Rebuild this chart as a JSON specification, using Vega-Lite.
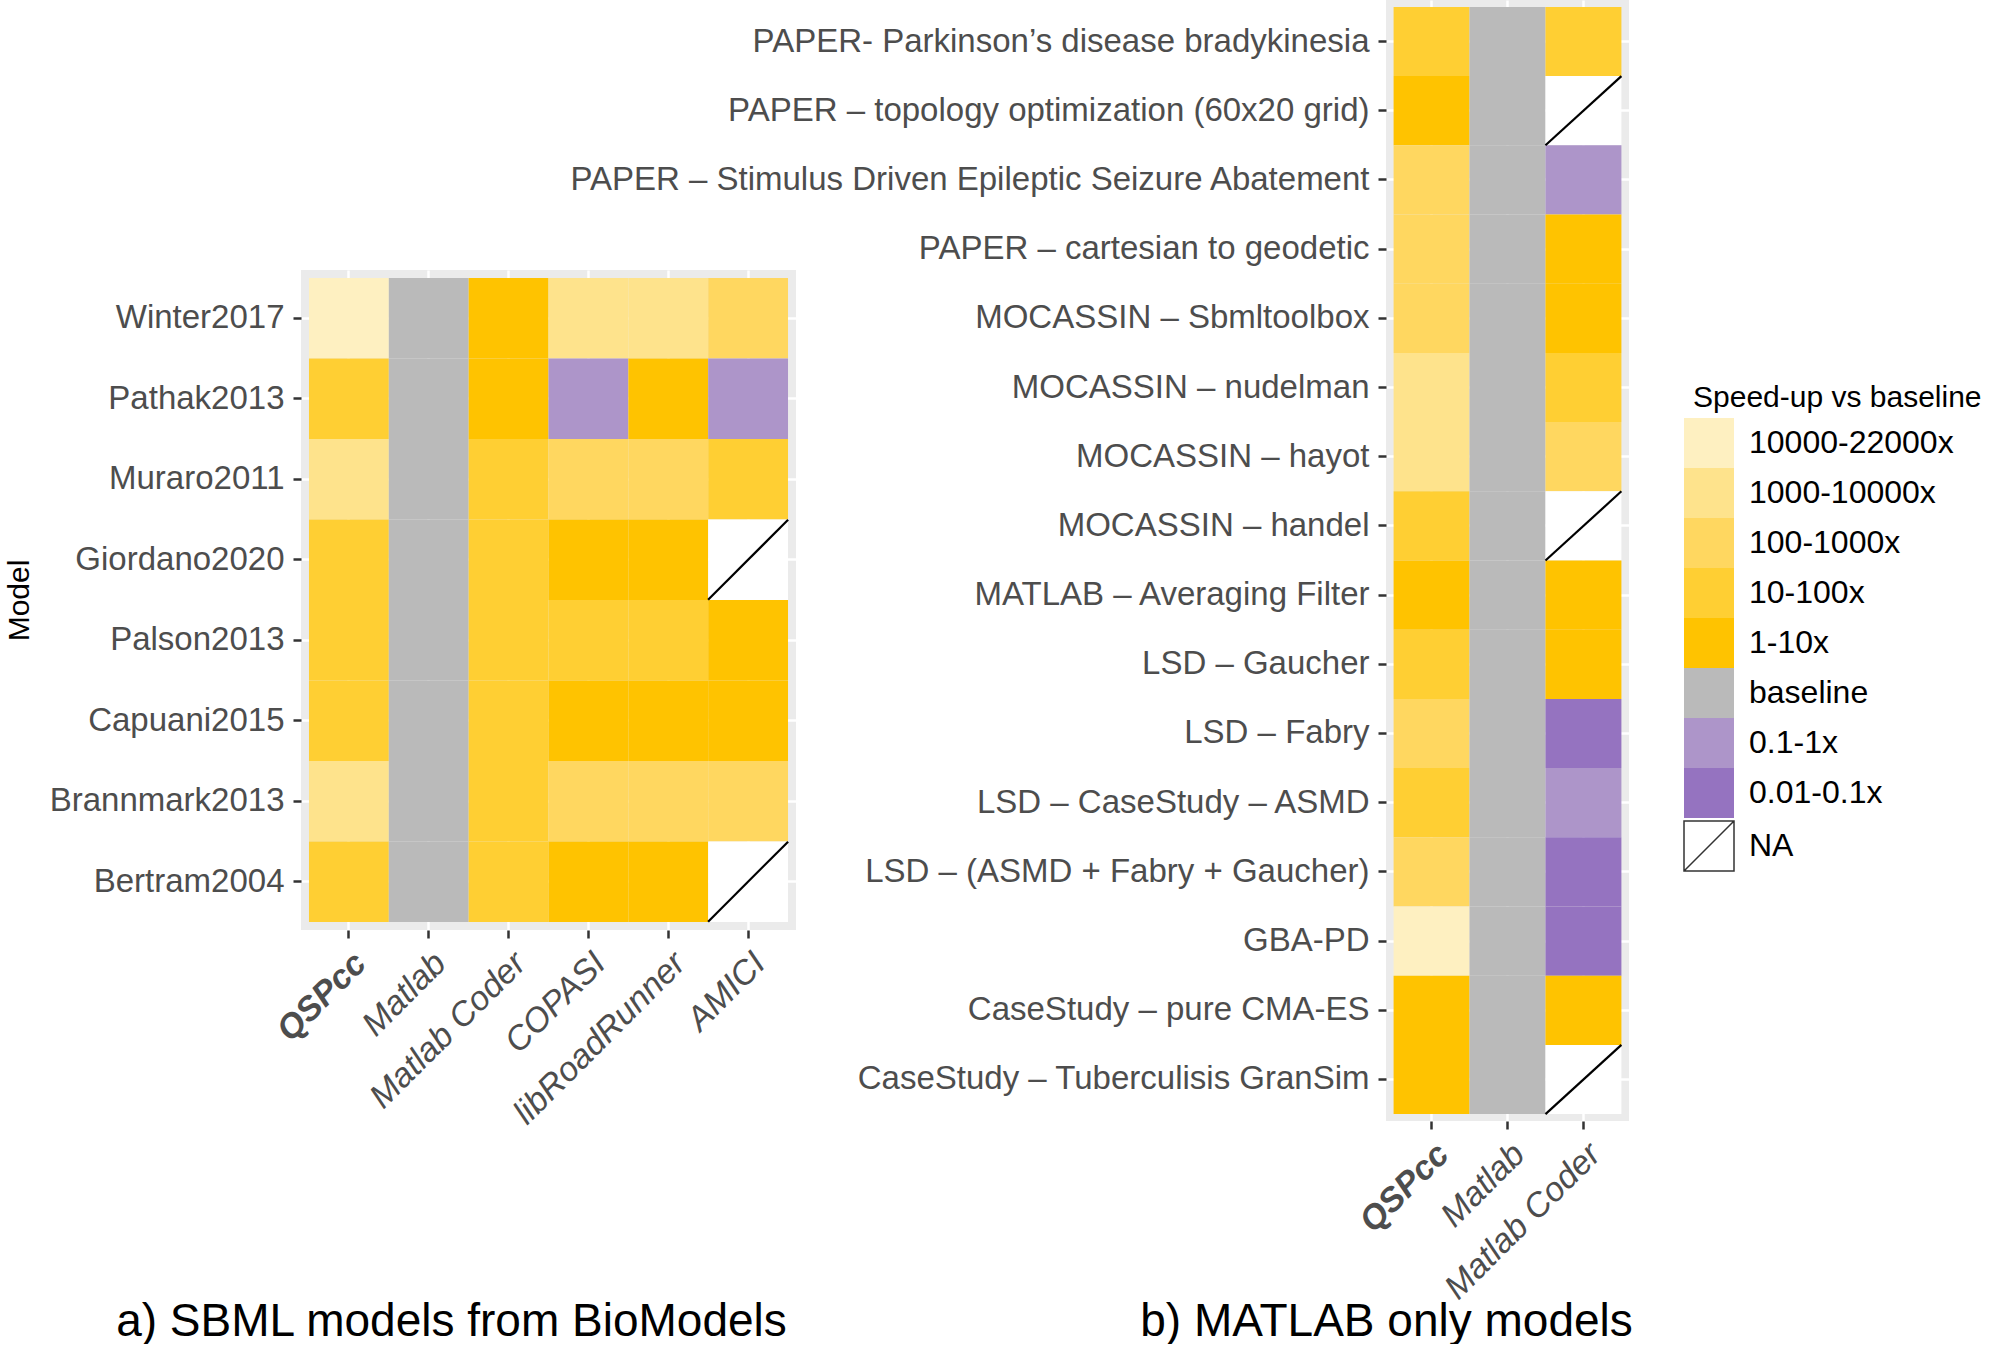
{
  "$schema": "https://vega.github.io/schema/vega-lite/v6.json",
  "padding": {"left": 4, "top": 0, "right": 0, "bottom": 0},
  "background": "#FFFFFF",
  "config": {
    "font": "Liberation Sans",
    "view": {"stroke": null},
    "axis": {
      "domain": false,
      "zindex": 0,
      "tickColor": "#333333",
      "tickWidth": 2.5,
      "tickSize": 8,
      "labelColor": "#4D4D4D",
      "labelFontSize": 33,
      "labelLimit": 1200,
      "gridColor": "#FFFFFF",
      "gridWidth": 2.5,
      "titleFontWeight": "normal",
      "titleColor": "#000000"
    }
  },
  "datasets": {
    "sbml": [
      {"model": "Winter2017", "tool": "QSPcc", "speed": "10000-22000x"},
      {"model": "Winter2017", "tool": "Matlab", "speed": "baseline"},
      {"model": "Winter2017", "tool": "Matlab Coder", "speed": "1-10x"},
      {"model": "Winter2017", "tool": "COPASI", "speed": "1000-10000x"},
      {"model": "Winter2017", "tool": "libRoadRunner", "speed": "1000-10000x"},
      {"model": "Winter2017", "tool": "AMICI", "speed": "100-1000x"},
      {"model": "Pathak2013", "tool": "QSPcc", "speed": "10-100x"},
      {"model": "Pathak2013", "tool": "Matlab", "speed": "baseline"},
      {"model": "Pathak2013", "tool": "Matlab Coder", "speed": "1-10x"},
      {"model": "Pathak2013", "tool": "COPASI", "speed": "0.1-1x"},
      {"model": "Pathak2013", "tool": "libRoadRunner", "speed": "1-10x"},
      {"model": "Pathak2013", "tool": "AMICI", "speed": "0.1-1x"},
      {"model": "Muraro2011", "tool": "QSPcc", "speed": "1000-10000x"},
      {"model": "Muraro2011", "tool": "Matlab", "speed": "baseline"},
      {"model": "Muraro2011", "tool": "Matlab Coder", "speed": "10-100x"},
      {"model": "Muraro2011", "tool": "COPASI", "speed": "100-1000x"},
      {"model": "Muraro2011", "tool": "libRoadRunner", "speed": "100-1000x"},
      {"model": "Muraro2011", "tool": "AMICI", "speed": "10-100x"},
      {"model": "Giordano2020", "tool": "QSPcc", "speed": "10-100x"},
      {"model": "Giordano2020", "tool": "Matlab", "speed": "baseline"},
      {"model": "Giordano2020", "tool": "Matlab Coder", "speed": "10-100x"},
      {"model": "Giordano2020", "tool": "COPASI", "speed": "1-10x"},
      {"model": "Giordano2020", "tool": "libRoadRunner", "speed": "1-10x"},
      {"model": "Giordano2020", "tool": "AMICI", "speed": "NA"},
      {"model": "Palson2013", "tool": "QSPcc", "speed": "10-100x"},
      {"model": "Palson2013", "tool": "Matlab", "speed": "baseline"},
      {"model": "Palson2013", "tool": "Matlab Coder", "speed": "10-100x"},
      {"model": "Palson2013", "tool": "COPASI", "speed": "10-100x"},
      {"model": "Palson2013", "tool": "libRoadRunner", "speed": "10-100x"},
      {"model": "Palson2013", "tool": "AMICI", "speed": "1-10x"},
      {"model": "Capuani2015", "tool": "QSPcc", "speed": "10-100x"},
      {"model": "Capuani2015", "tool": "Matlab", "speed": "baseline"},
      {"model": "Capuani2015", "tool": "Matlab Coder", "speed": "10-100x"},
      {"model": "Capuani2015", "tool": "COPASI", "speed": "1-10x"},
      {"model": "Capuani2015", "tool": "libRoadRunner", "speed": "1-10x"},
      {"model": "Capuani2015", "tool": "AMICI", "speed": "1-10x"},
      {"model": "Brannmark2013", "tool": "QSPcc", "speed": "1000-10000x"},
      {"model": "Brannmark2013", "tool": "Matlab", "speed": "baseline"},
      {"model": "Brannmark2013", "tool": "Matlab Coder", "speed": "10-100x"},
      {"model": "Brannmark2013", "tool": "COPASI", "speed": "100-1000x"},
      {"model": "Brannmark2013", "tool": "libRoadRunner", "speed": "100-1000x"},
      {"model": "Brannmark2013", "tool": "AMICI", "speed": "100-1000x"},
      {"model": "Bertram2004", "tool": "QSPcc", "speed": "10-100x"},
      {"model": "Bertram2004", "tool": "Matlab", "speed": "baseline"},
      {"model": "Bertram2004", "tool": "Matlab Coder", "speed": "10-100x"},
      {"model": "Bertram2004", "tool": "COPASI", "speed": "1-10x"},
      {"model": "Bertram2004", "tool": "libRoadRunner", "speed": "1-10x"},
      {"model": "Bertram2004", "tool": "AMICI", "speed": "NA"}
    ],
    "matlab": [
      {"model": "PAPER- Parkinson’s disease bradykinesia", "tool": "QSPcc", "speed": "10-100x"},
      {"model": "PAPER- Parkinson’s disease bradykinesia", "tool": "Matlab", "speed": "baseline"},
      {"model": "PAPER- Parkinson’s disease bradykinesia", "tool": "Matlab Coder", "speed": "10-100x"},
      {"model": "PAPER – topology optimization (60x20 grid)", "tool": "QSPcc", "speed": "1-10x"},
      {"model": "PAPER – topology optimization (60x20 grid)", "tool": "Matlab", "speed": "baseline"},
      {"model": "PAPER – topology optimization (60x20 grid)", "tool": "Matlab Coder", "speed": "NA"},
      {"model": "PAPER – Stimulus Driven Epileptic Seizure Abatement", "tool": "QSPcc", "speed": "100-1000x"},
      {"model": "PAPER – Stimulus Driven Epileptic Seizure Abatement", "tool": "Matlab", "speed": "baseline"},
      {"model": "PAPER – Stimulus Driven Epileptic Seizure Abatement", "tool": "Matlab Coder", "speed": "0.1-1x"},
      {"model": "PAPER – cartesian to geodetic", "tool": "QSPcc", "speed": "100-1000x"},
      {"model": "PAPER – cartesian to geodetic", "tool": "Matlab", "speed": "baseline"},
      {"model": "PAPER – cartesian to geodetic", "tool": "Matlab Coder", "speed": "1-10x"},
      {"model": "MOCASSIN – Sbmltoolbox", "tool": "QSPcc", "speed": "100-1000x"},
      {"model": "MOCASSIN – Sbmltoolbox", "tool": "Matlab", "speed": "baseline"},
      {"model": "MOCASSIN – Sbmltoolbox", "tool": "Matlab Coder", "speed": "1-10x"},
      {"model": "MOCASSIN – nudelman", "tool": "QSPcc", "speed": "1000-10000x"},
      {"model": "MOCASSIN – nudelman", "tool": "Matlab", "speed": "baseline"},
      {"model": "MOCASSIN – nudelman", "tool": "Matlab Coder", "speed": "10-100x"},
      {"model": "MOCASSIN – hayot", "tool": "QSPcc", "speed": "1000-10000x"},
      {"model": "MOCASSIN – hayot", "tool": "Matlab", "speed": "baseline"},
      {"model": "MOCASSIN – hayot", "tool": "Matlab Coder", "speed": "100-1000x"},
      {"model": "MOCASSIN – handel", "tool": "QSPcc", "speed": "10-100x"},
      {"model": "MOCASSIN – handel", "tool": "Matlab", "speed": "baseline"},
      {"model": "MOCASSIN – handel", "tool": "Matlab Coder", "speed": "NA"},
      {"model": "MATLAB – Averaging Filter", "tool": "QSPcc", "speed": "1-10x"},
      {"model": "MATLAB – Averaging Filter", "tool": "Matlab", "speed": "baseline"},
      {"model": "MATLAB – Averaging Filter", "tool": "Matlab Coder", "speed": "1-10x"},
      {"model": "LSD – Gaucher", "tool": "QSPcc", "speed": "10-100x"},
      {"model": "LSD – Gaucher", "tool": "Matlab", "speed": "baseline"},
      {"model": "LSD – Gaucher", "tool": "Matlab Coder", "speed": "1-10x"},
      {"model": "LSD – Fabry", "tool": "QSPcc", "speed": "100-1000x"},
      {"model": "LSD – Fabry", "tool": "Matlab", "speed": "baseline"},
      {"model": "LSD – Fabry", "tool": "Matlab Coder", "speed": "0.01-0.1x"},
      {"model": "LSD – CaseStudy – ASMD", "tool": "QSPcc", "speed": "10-100x"},
      {"model": "LSD – CaseStudy – ASMD", "tool": "Matlab", "speed": "baseline"},
      {"model": "LSD – CaseStudy – ASMD", "tool": "Matlab Coder", "speed": "0.1-1x"},
      {"model": "LSD – (ASMD + Fabry + Gaucher)", "tool": "QSPcc", "speed": "100-1000x"},
      {"model": "LSD – (ASMD + Fabry + Gaucher)", "tool": "Matlab", "speed": "baseline"},
      {"model": "LSD – (ASMD + Fabry + Gaucher)", "tool": "Matlab Coder", "speed": "0.01-0.1x"},
      {"model": "GBA-PD", "tool": "QSPcc", "speed": "10000-22000x"},
      {"model": "GBA-PD", "tool": "Matlab", "speed": "baseline"},
      {"model": "GBA-PD", "tool": "Matlab Coder", "speed": "0.01-0.1x"},
      {"model": "CaseStudy – pure CMA-ES", "tool": "QSPcc", "speed": "1-10x"},
      {"model": "CaseStudy – pure CMA-ES", "tool": "Matlab", "speed": "baseline"},
      {"model": "CaseStudy – pure CMA-ES", "tool": "Matlab Coder", "speed": "1-10x"},
      {"model": "CaseStudy – Tuberculisis GranSim", "tool": "QSPcc", "speed": "1-10x"},
      {"model": "CaseStudy – Tuberculisis GranSim", "tool": "Matlab", "speed": "baseline"},
      {"model": "CaseStudy – Tuberculisis GranSim", "tool": "Matlab Coder", "speed": "NA"}
    ]
  },
  "bounds": "flush",
  "spacing": 1085,
  "hconcat": [
    {
      "bounds": "flush",
      "spacing": 20,
      "vconcat": [
        {
          "width": 495,
          "height": 250,
          "data": {"values": []},
          "mark": {"type": "point", "opacity": 0},
          "encoding": {}
        },
        {
          "width": 495,
          "height": 660,
          "data": {"name": "sbml"},
          "view": {"fill": "#EBEBEB", "stroke": null},
          "encoding": {
            "x": {
              "field": "tool", "type": "nominal",
              "sort": ["QSPcc", "Matlab", "Matlab Coder", "COPASI", "libRoadRunner", "AMICI"],
              "scale": {"type": "band", "paddingInner": 0, "paddingOuter": 0.1},
              "axis": {
                "grid": true, "bandPosition": 0.5, "zindex": 0,
                "labelAngle": -45, "labelAlign": "right", "labelBaseline": "top",
                "labelPadding": 8, "labelFontSize": 34, "labelFontStyle": "italic",
                "labelFontWeight": {"condition": {"test": "datum.value === 'QSPcc'", "value": "bold"}, "value": "normal"},
                "title": "a) SBML models from BioModels",
                "titleFontSize": 46, "titleX": 150, "titleY": 405,
                "titleAlign": "center", "titleBaseline": "alphabetic", "titleAngle": 0
              }
            },
            "y": {
              "field": "model", "type": "nominal",
              "sort": ["Winter2017", "Pathak2013", "Muraro2011", "Giordano2020", "Palson2013", "Capuani2015", "Brannmark2013", "Bertram2004"],
              "scale": {"type": "band", "paddingInner": 0, "paddingOuter": 0.1},
              "axis": {
                "grid": true, "bandPosition": 0.5, "zindex": 0,
                "labelPadding": 9,
                "title": "Model", "titleFontSize": 30,
                "titleX": -273, "titleY": 330, "titleAngle": -90,
                "titleAlign": "center", "titleBaseline": "alphabetic"
              }
            }
          },
          "layer": [
            {
              "mark": {"type": "rect", "strokeWidth": 0},
              "encoding": {
                "color": {
                  "field": "speed", "type": "nominal",
                  "scale": {
                    "domain": ["10000-22000x", "1000-10000x", "100-1000x", "10-100x", "1-10x", "baseline", "0.1-1x", "0.01-0.1x", "NA"],
                    "range": ["#FEF0C1", "#FEE38C", "#FFD760", "#FFCF33", "#FFC300", "#BABABA", "#AD95C9", "#9573C0", "#FFFFFF"]
                  },
                  "legend": {
                    "orient": "none", "legendX": 1392, "legendY": 383,
                    "title": "Speed-up vs baseline",
                    "titleFontSize": 30, "titleColor": "#000000", "titleFontWeight": "normal", "titlePadding": 14, "titleLimit": 800,
                    "labelFontSize": 32, "labelColor": "#000000", "labelOffset": 24, "labelLimit": 600,
                    "symbolType": "square", "symbolSize": 2500, "symbolStrokeWidth": 0,
                    "rowPadding": 0, "padding": 0,
                    "encode": {
                      "symbols": {
                        "update": {
                          "shape": {"signal": "datum.value === 'NA' ? 'M-1,-1L1,-1L1,1L-1,1Z M-1,1L1,-1' : 'square'"},
                          "stroke": {"signal": "datum.value === 'NA' ? '#333333' : 'transparent'"},
                          "strokeWidth": {"signal": "datum.value === 'NA' ? 1.5 : 0"}
                        }
                      }
                    }
                  }
                }
              }
            },
            {
              "transform": [{"filter": "datum.speed === 'NA'"}],
              "mark": {"type": "point", "shape": "M-1,1L1,-1", "size": 6400, "filled": false, "color": "#000000", "strokeWidth": 2.2, "opacity": 1}
            }
          ]
        }
      ]
    },
    {
      "width": 243,
      "height": 1121,
      "data": {"name": "matlab"},
      "view": {"fill": "#EBEBEB", "stroke": null},
      "encoding": {
        "x": {
          "field": "tool", "type": "nominal",
          "sort": ["QSPcc", "Matlab", "Matlab Coder"],
          "scale": {"type": "band", "paddingInner": 0, "paddingOuter": 0.1},
          "axis": {
            "grid": true, "bandPosition": 0.5, "zindex": 0,
            "labelAngle": -45, "labelAlign": "right", "labelBaseline": "top",
            "labelPadding": 8, "labelFontSize": 34, "labelFontStyle": "italic",
            "labelFontWeight": {"condition": {"test": "datum.value === 'QSPcc'", "value": "bold"}, "value": "normal"},
            "title": "b) MATLAB only models",
            "titleFontSize": 46, "titleX": 0, "titleY": 214,
            "titleAlign": "center", "titleBaseline": "alphabetic", "titleAngle": 0
          }
        },
        "y": {
          "field": "model", "type": "nominal",
          "sort": [
            "PAPER- Parkinson’s disease bradykinesia",
            "PAPER – topology optimization (60x20 grid)",
            "PAPER – Stimulus Driven Epileptic Seizure Abatement",
            "PAPER – cartesian to geodetic",
            "MOCASSIN – Sbmltoolbox",
            "MOCASSIN – nudelman",
            "MOCASSIN – hayot",
            "MOCASSIN – handel",
            "MATLAB – Averaging Filter",
            "LSD – Gaucher",
            "LSD – Fabry",
            "LSD – CaseStudy – ASMD",
            "LSD – (ASMD + Fabry + Gaucher)",
            "GBA-PD",
            "CaseStudy – pure CMA-ES",
            "CaseStudy – Tuberculisis GranSim"
          ],
          "scale": {"type": "band", "paddingInner": 0, "paddingOuter": 0.1},
          "axis": {"grid": true, "bandPosition": 0.5, "zindex": 0, "labelPadding": 9, "title": null}
        }
      },
      "layer": [
        {
          "mark": {"type": "rect", "strokeWidth": 0},
          "encoding": {
            "color": {
              "field": "speed", "type": "nominal",
              "scale": {
                "domain": ["10000-22000x", "1000-10000x", "100-1000x", "10-100x", "1-10x", "baseline", "0.1-1x", "0.01-0.1x", "NA"],
                "range": ["#FEF0C1", "#FEE38C", "#FFD760", "#FFCF33", "#FFC300", "#BABABA", "#AD95C9", "#9573C0", "#FFFFFF"]
              }
            }
          }
        },
        {
          "transform": [{"filter": "datum.speed === 'NA'"}],
          "mark": {"type": "point", "shape": "M-1,0.911L1,-0.911", "size": 5767, "filled": false, "color": "#000000", "strokeWidth": 2.2, "opacity": 1}
        }
      ]
    }
  ]
}
